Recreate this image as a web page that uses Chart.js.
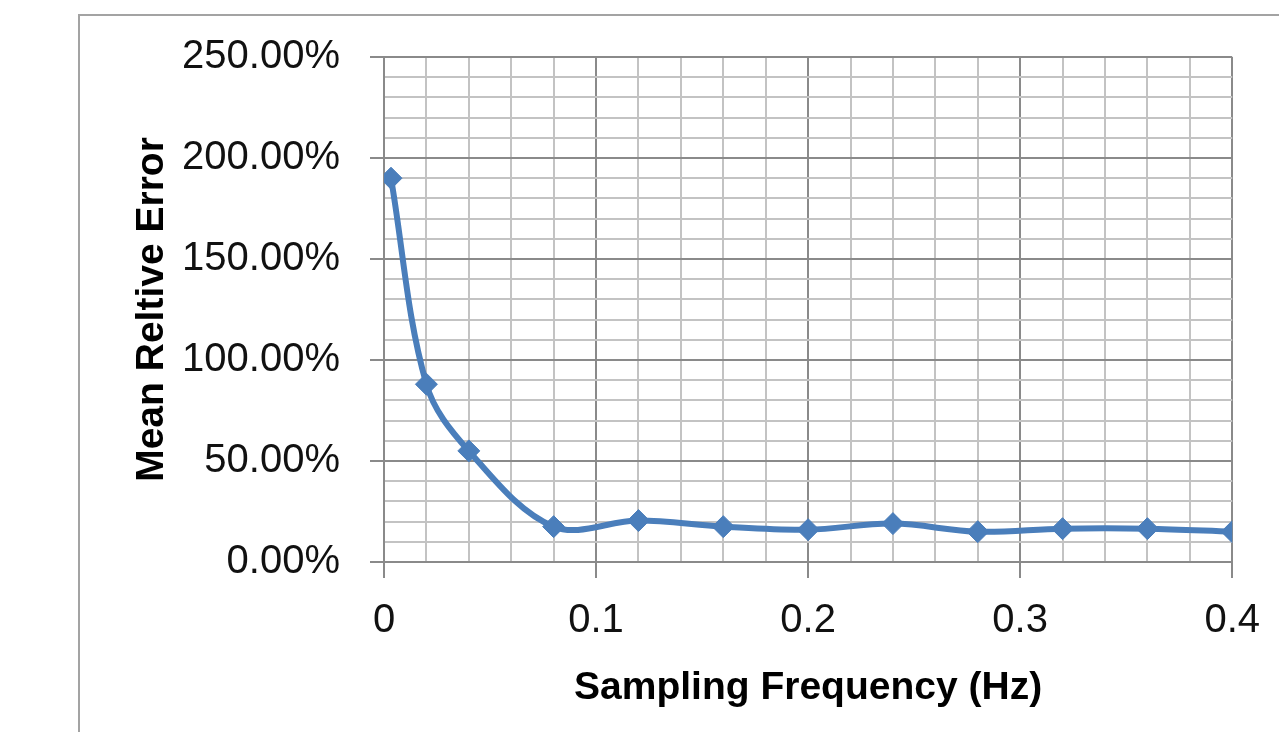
<!DOCTYPE html>
<html>
<head>
<meta charset="utf-8">
<script src="https://cdn.jsdelivr.net/npm/chart.js@4.4.1/dist/chart.umd.min.js"></script>
<style>
  html, body { margin: 0; padding: 0; background: #fff; overflow: hidden; }
  #wrap { position: relative; width: 1279px; height: 732px; }
  #frame { position: absolute; left: 78px; top: 14px; width: 1400px; height: 900px;
           border: 2px solid #a3a3a3; background: #fff; }
  #box { position: absolute; left: 0; top: 0; width: 1279px; height: 732px; }
</style>
</head>
<body>
<div id="wrap">
  <div id="frame"></div>
  <div id="box"><canvas id="c"></canvas></div>
</div>
<script>
// Sampling frequency (Hz)
const frequencies = [0.0033, 0.02, 0.04, 0.08, 0.12, 0.16, 0.2, 0.24, 0.28, 0.32, 0.36, 0.4];
// Mean relative error (%)
const meanRelativeError = [190, 88, 55, 17.5, 20.5, 17.5, 16, 19, 15, 16.5, 16.5, 15];
const xTickLabels = ['0', '0.1', '0.2', '0.3', '0.4'];
const yTickLabels = ['0.00%', '50.00%', '100.00%', '150.00%', '200.00%', '250.00%'];
const xTitle = 'Sampling Frequency (Hz)';
const yTitle = 'Mean Reltive Error';

const FONT = "'Liberation Sans', Arial, sans-serif";
const MAJOR = '#8a8a8a', MINOR = '#c3c3c3';

const isMajorX = v => Math.abs(v * 10 - Math.round(v * 10)) < 1e-6;
const isMajorY = v => Math.abs(v / 50 - Math.round(v / 50)) < 1e-6;

const points = frequencies.map((f, i) => ({ x: f, y: meanRelativeError[i] }));

new Chart(document.getElementById('c'), {
  type: 'line',
  data: {
    datasets: [{
      data: points,
      borderColor: '#4a7ebb',
      backgroundColor: '#4a7ebb',
      borderWidth: 6,
      tension: 0.35,
      pointStyle: 'rectRot',
      pointRadius: 11,
      pointBorderWidth: 1,
      pointBorderColor: '#4a7ebb',
      pointBackgroundColor: '#4a7ebb',
      fill: false
    }]
  },
  options: {
    responsive: true,
    maintainAspectRatio: false,
    animation: false,
    devicePixelRatio: 1,
    layout: { padding: { left: 0, top: 57, right: 43, bottom: 0 } },
    plugins: { legend: { display: false }, tooltip: { enabled: false } },
    scales: {
      x: {
        type: 'linear',
        min: 0, max: 0.4,
        afterFit: s => { s.height = 170; },
        ticks: {
          stepSize: 0.02,
          autoSkip: false,
          maxRotation: 0,
          padding: 19,
          color: '#111',
          font: { family: FONT, size: 40 },
          callback: v => isMajorX(v) ? xTickLabels[Math.round(v * 10)] : ''
        },
        grid: {
          lineWidth: 2,
          tickLength: 16,
          color: c => (c.tick && isMajorX(c.tick.value)) ? MAJOR : MINOR,
          tickColor: c => (c.tick && isMajorX(c.tick.value)) ? MAJOR : 'rgba(0,0,0,0)'
        },
        border: { color: MAJOR, width: 2 },
        title: {
          display: true, text: xTitle, color: '#000',
          font: { family: FONT, size: 39, weight: 'bold' },
          padding: { top: 0, bottom: 20 }
        }
      },
      y: {
        type: 'linear',
        min: 0, max: 250,
        afterFit: s => { s.width = 384; },
        ticks: {
          stepSize: 10,
          autoSkip: false,
          padding: 30,
          color: '#111',
          font: { family: FONT, size: 40 },
          callback: v => isMajorY(v) ? yTickLabels[Math.round(v / 50)] : ''
        },
        grid: {
          lineWidth: 2,
          tickLength: 14,
          color: c => (c.tick && isMajorY(c.tick.value)) ? MAJOR : MINOR,
          tickColor: c => (c.tick && isMajorY(c.tick.value)) ? MAJOR : 'rgba(0,0,0,0)'
        },
        border: { color: MAJOR, width: 2 },
        title: {
          display: true, text: yTitle, color: '#000',
          font: { family: FONT, size: 39, weight: 'bold' },
          padding: { top: 129, bottom: 0 }
        }
      }
    }
  }
});
</script>
</body>
</html>
